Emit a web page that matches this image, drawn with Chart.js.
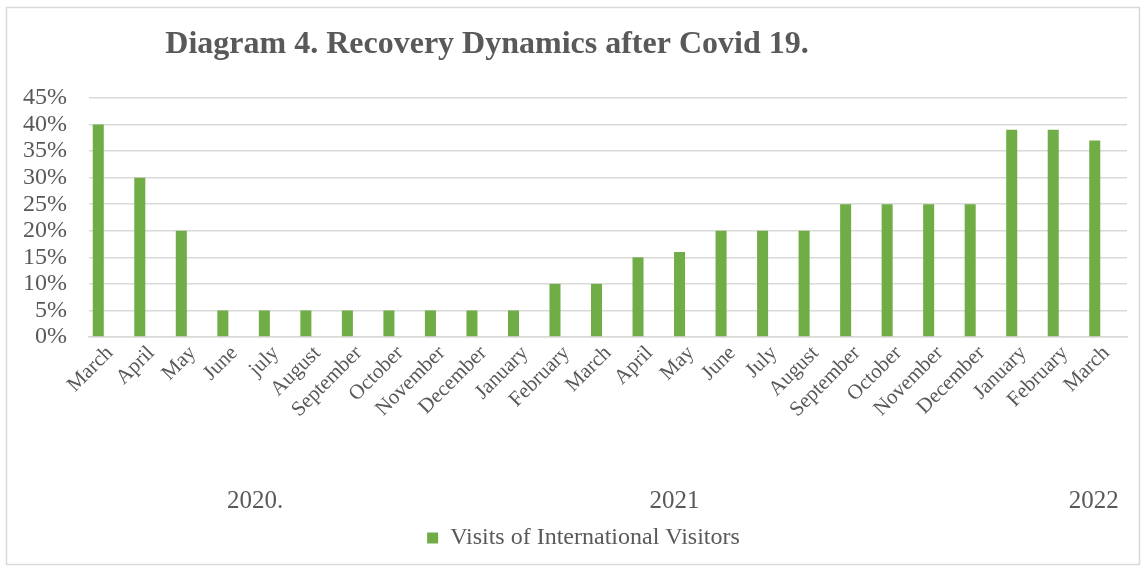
<!DOCTYPE html>
<html>
<head>
<meta charset="utf-8">
<script src="https://cdn.jsdelivr.net/npm/chart.js@4/dist/chart.umd.min.js"></script>
<style>
html,body{margin:0;padding:0;background:#fff;}
#wrap{position:absolute;left:0;top:0;width:1146px;height:569px;}
</style>
</head>
<body>
<div id="wrap"><canvas id="c" width="1146" height="569"></canvas></div>
<script>
const categories = ["March","April","May","June","july","August","September","October","November","December","January","February","March","April","May","June","July","August","September","October","November","December","January","February","March"];
const visits = [40,30,20,5,5,5,5,5,5,5,5,10,10,15,16,20,20,20,25,25,25,25,39,39,37];
const emptySeries = categories.map(()=>null);
const yearLabels = ["2020.","2021","2022"];
const yearPositions = [3.5,13.6,23.7];
const seriesName = "Visits of International Visitors";
const titleText = "Diagram 4. Recovery Dynamics after Covid 19.";

const FONT = "'Liberation Serif','Times New Roman',serif";
const GREY = "#595959";

const decor = {
  id:'decor',
  afterLayout(chart){
    if (chart.legend){ chart.legend.left += 20; chart.legend.right += 20; }
  },
  beforeDraw(chart){
    const ctx = chart.ctx;
    ctx.save();
    ctx.strokeStyle = '#d9d9d9';
    ctx.lineWidth = 1.5;
    ctx.strokeRect(6.5,7.5,1133,557);
    ctx.restore();
  },
  afterDraw(chart){
    const ctx = chart.ctx;
    const x = chart.scales.x;
    ctx.save();
    ctx.fillStyle = GREY;
    ctx.font = "bold 32px " + FONT;
    ctx.textAlign = 'center';
    ctx.textBaseline = 'middle';
    ctx.fillText(titleText, 487, 45);
    ctx.font = "25px " + FONT;
    yearLabels.forEach((t,i)=>{
      ctx.fillText(t, x.getPixelForValue(yearPositions[i]), 501);
    });
    ctx.restore();
  }
};

new Chart(document.getElementById('c'), {
  type:'bar',
  data:{
    labels: categories,
    datasets:[{
      label: seriesName,
      data: visits,
      backgroundColor:'#70ad47',
      borderWidth:0
    },{
      label: '',
      data: emptySeries
    },{
      label: '',
      data: emptySeries
    }]
  },
  plugins:[decor],
  options:{
    responsive:false,
    animation:false,
    datasets:{bar:{barPercentage:0.96,categoryPercentage:0.83}},
    layout:{padding:{left:0,right:19,top:98,bottom:9}},
    plugins:{
      legend:{
        position:'bottom',
        labels:{
          font:{family:FONT,size:24},
          color:GREY,
          boxWidth:11,
          boxHeight:11,
          padding:8,
          filter:item=>item.text!==''
        }
      },
      tooltip:{enabled:false}
    },
    scales:{
      x:{
        grid:{display:false,drawTicks:false},
        border:{display:true,color:'#d9d9d9',width:1.5},
        ticks:{
          font:{family:FONT,size:21},
          color:GREY,
          maxRotation:45,
          minRotation:45,
          autoSkip:false,
          padding:4
        },
        afterFit(s){ s.height = 181; }
      },
      y:{
        min:0,max:45,
        grid:{color:'#d9d9d9',lineWidth:1.5,drawTicks:false},
        border:{display:false},
        ticks:{
          stepSize:5,
          autoSkip:false,
          font:{family:FONT,size:24},
          color:GREY,
          padding:22,
          callback:v=>v+'%'
        },
        afterFit(s){ s.width = 89; }
      }
    }
  }
});
</script>
</body>
</html>
